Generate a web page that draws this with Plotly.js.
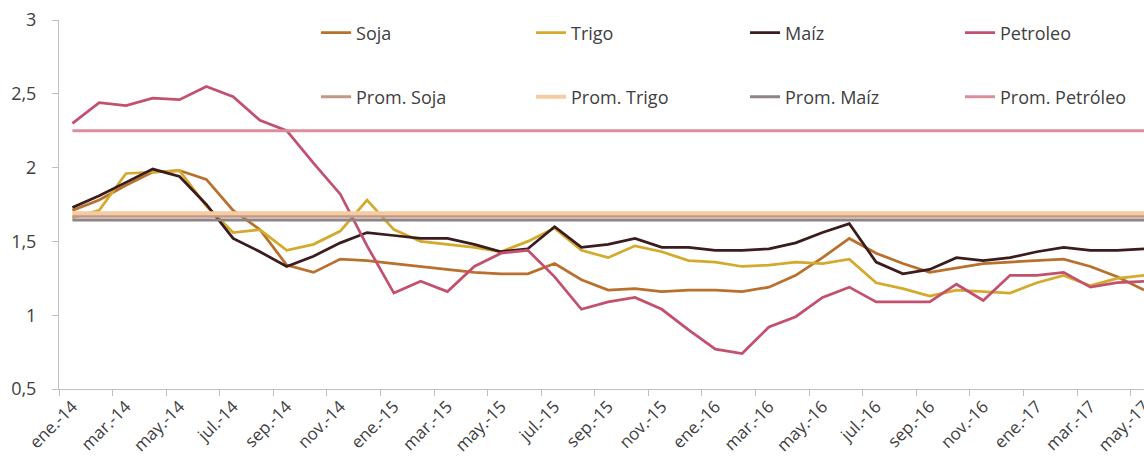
<!DOCTYPE html>
<html>
<head>
<meta charset="utf-8">
<script src="https://cdn.plot.ly/plotly-3.0.1.min.js"></script>
<style>
html,body{margin:0;padding:0;background:#fff;}
#chart{width:1144px;height:468px;}
</style>
</head>
<body>
<div id="chart"></div>
<script>
const categories = [
 "ene.-14","feb.-14","mar.-14","abr.-14","may.-14","jun.-14","jul.-14","ago.-14","sep.-14","oct.-14","nov.-14","dic.-14",
 "ene.-15","feb.-15","mar.-15","abr.-15","may.-15","jun.-15","jul.-15","ago.-15","sep.-15","oct.-15","nov.-15","dic.-15",
 "ene.-16","feb.-16","mar.-16","abr.-16","may.-16","jun.-16","jul.-16","ago.-16","sep.-16","oct.-16","nov.-16","dic.-16",
 "ene.-17","feb.-17","mar.-17","abr.-17","may.-17"
];

const soja = [1.71,1.78,1.88,1.97,1.98,1.92,1.71,1.58,1.34,1.29,1.38,1.37,
              1.35,1.33,1.31,1.29,1.28,1.28,1.35,1.24,1.17,1.18,1.16,1.17,
              1.17,1.16,1.19,1.27,1.39,1.52,1.42,1.35,1.29,1.32,1.35,1.36,
              1.37,1.38,1.33,1.26,1.17];
const trigo = [1.66,1.71,1.96,1.97,1.98,1.74,1.56,1.58,1.44,1.48,1.57,1.78,
               1.58,1.50,1.48,1.46,1.43,1.50,1.59,1.44,1.39,1.47,1.43,1.37,
               1.36,1.33,1.34,1.36,1.35,1.38,1.22,1.18,1.13,1.17,1.16,1.15,
               1.22,1.27,1.20,1.25,1.27];
const maiz = [1.73,1.81,1.90,1.99,1.94,1.75,1.52,1.43,1.33,1.40,1.49,1.56,
              1.54,1.52,1.52,1.48,1.43,1.45,1.60,1.46,1.48,1.52,1.46,1.46,
              1.44,1.44,1.45,1.49,1.56,1.62,1.36,1.28,1.31,1.39,1.37,1.39,
              1.43,1.46,1.44,1.44,1.45];
const petroleo = [2.30,2.44,2.42,2.47,2.46,2.55,2.48,2.32,2.25,2.03,1.82,1.47,
                  1.15,1.23,1.16,1.33,1.42,1.44,1.26,1.04,1.09,1.12,1.04,0.90,
                  0.77,0.74,0.92,0.99,1.12,1.19,1.09,1.09,1.09,1.21,1.10,1.27,
                  1.27,1.29,1.19,1.22,1.23];

const promSoja = 1.67;
const promTrigo = 1.69;
const promMaiz = 1.645;
const promPetroleo = 2.25;

const seriesNames = ["Soja","Trigo","Maíz","Petroleo"];
const promNames = ["Prom. Soja","Prom. Trigo","Prom. Maíz","Prom. Petróleo"];

const colors = {
  soja: "#B8702C", trigo: "#D3AA2C", maiz: "#3A1C1E", petroleo: "#C2506E",
  promSoja: "#C49888", promTrigo: "#F5CBA2", promMaiz: "#8E8484", promPetroleo: "#DC8E9E"
};

const flat = v => categories.map(() => v);

const lineTrace = (name, y, color, width, legend) => ({
  type: "scatter", mode: "lines", name: name, x: categories, y: y,
  line: {color: color, width: width}, legend: legend, hoverinfo: "skip"
});

const data = [
  lineTrace(seriesNames[0], soja, colors.soja, 2.75, "legend"),
  lineTrace(seriesNames[1], trigo, colors.trigo, 2.75, "legend2"),
  lineTrace(seriesNames[2], maiz, colors.maiz, 2.75, "legend3"),
  lineTrace(seriesNames[3], petroleo, colors.petroleo, 2.75, "legend4"),
  lineTrace(promNames[0], flat(promSoja), colors.promSoja, 3, "legend5"),
  lineTrace(promNames[1], flat(promTrigo), colors.promTrigo, 4, "legend6"),
  lineTrace(promNames[2], flat(promMaiz), colors.promMaiz, 3, "legend7"),
  lineTrace(promNames[3], flat(promPetroleo), colors.promPetroleo, 3, "legend8")
];

const fam = "Open Sans, Noto Sans, sans-serif";
const legFont = {family: fam, size: 18, color: "#404040"};
const colX = [0.2369, 0.435, 0.6323, 0.8304];
const rowY = [0.9648, 0.7913];
const mkLegend = (c, r) => ({
  orientation: "v", xanchor: "left", yanchor: "middle",
  x: colX[c], y: rowY[r], font: legFont, bgcolor: "rgba(0,0,0,0)",
  borderwidth: 0, itemclick: false
});

const layout = {
  width: 1144, height: 468,
  margin: {l: 59, r: 0, t: 20, b: 79},
  paper_bgcolor: "#ffffff", plot_bgcolor: "#ffffff",
  separators: ",.",
  showlegend: true,
  font: {family: fam, size: 16, color: "#404040"},
  xaxis: {
    type: "category", range: [-0.5, 40], dtick: 2, tick0: 0,
    tickson: "boundaries", ticks: "outside", ticklen: 6, tickcolor: "#BFBFBF",
    tickangle: -45, showline: true, linecolor: "#BFBFBF", linewidth: 1,
    showgrid: false, zeroline: false, automargin: false,
    tickfont: {family: fam, size: 17, color: "#404040"}
  },
  yaxis: {
    range: [0.5, 3], dtick: 0.5, tick0: 0.5, ticks: "outside", ticklen: 6,
    tickcolor: "#BFBFBF", showline: true, linecolor: "#BFBFBF", linewidth: 1,
    showgrid: false, zeroline: false, automargin: false, ticklabelstandoff: 12,
    tickfont: {family: fam, size: 18, color: "#404040"}
  },
  legend: mkLegend(0, 0),
  legend2: mkLegend(1, 0),
  legend3: mkLegend(2, 0),
  legend4: mkLegend(3, 0),
  legend5: mkLegend(0, 1),
  legend6: mkLegend(1, 1),
  legend7: mkLegend(2, 1),
  legend8: mkLegend(3, 1)
};

Plotly.newPlot("chart", data, layout, {staticPlot: true, displayModeBar: false});
</script>
</body>
</html>
